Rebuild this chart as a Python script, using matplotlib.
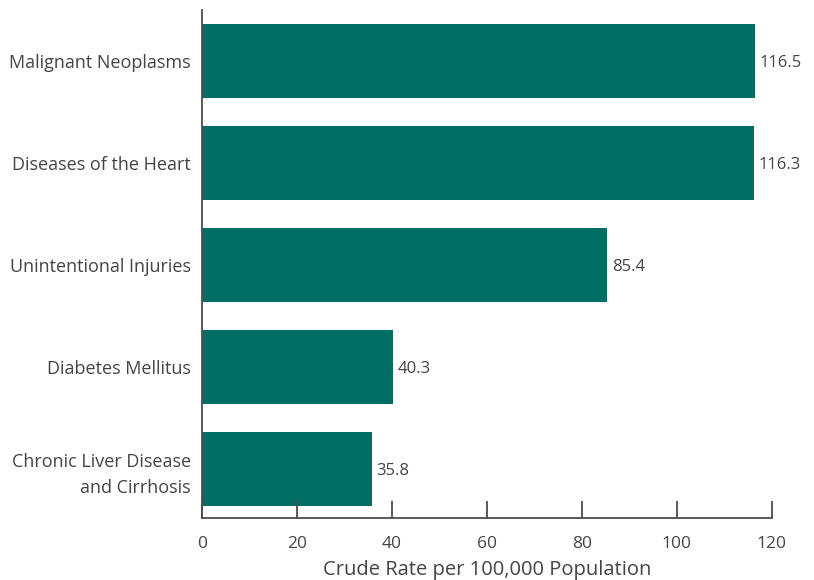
import matplotlib.pyplot as plt

# causes of death, crude rate per 100,000
causas = ["Malignant Neoplasms", "Diseases of the Heart", "Unintentional Injuries",
          "Diabetes Mellitus", "Chronic Liver Disease\nand Cirrhosis"]
taxas = [116.5, 116.3, 85.4, 40.3, 35.8]
ticks_x = [0, 20, 40, 60, 80, 100, 120]

VERDE = "#006E63"
CINZA = "#444444"
EIXO = "#4d4d4d"

plt.rcParams["font.family"] = ["Open Sans", "DejaVu Sans"]

fig = plt.figure(figsize=(8.14, 5.8), dpi=100)
ax = fig.add_axes([0.248, 0.107, 0.700, 0.876])

pos = list(range(len(causas)))
bars = ax.barh(pos, taxas, height=0.72, color=VERDE)

for bar, val in zip(bars, taxas):
    ax.text(val + 1.0, bar.get_y() + bar.get_height() / 2 + 0.02, f"{val:.1f}",
            va="center", ha="left", fontsize=12, color=CINZA)

ax.set_yticks(pos)
ax.set_yticklabels(causas, fontsize=13, color=CINZA, ha="right", linespacing=1.55)
ax.set_ylim(4.48, -0.5)
ax.set_xlim(0, 120)
ax.set_xticks(ticks_x)
ax.set_xticklabels([str(t) for t in ticks_x], fontsize=12.5, color=CINZA)
ax.set_xlabel("Crude Rate per 100,000 Population", fontsize=14.5, color=CINZA, labelpad=6)

for lado in ["top", "right"]:
    ax.spines[lado].set_visible(False)
for lado in ["left", "bottom"]:
    ax.spines[lado].set_color(EIXO)
    ax.spines[lado].set_linewidth(1.3)

ax.tick_params(axis="y", length=0, pad=8)
ax.tick_params(axis="x", direction="in", length=12, width=1.3, color=EIXO, pad=13)

fig.savefig("out.png", dpi=100)
